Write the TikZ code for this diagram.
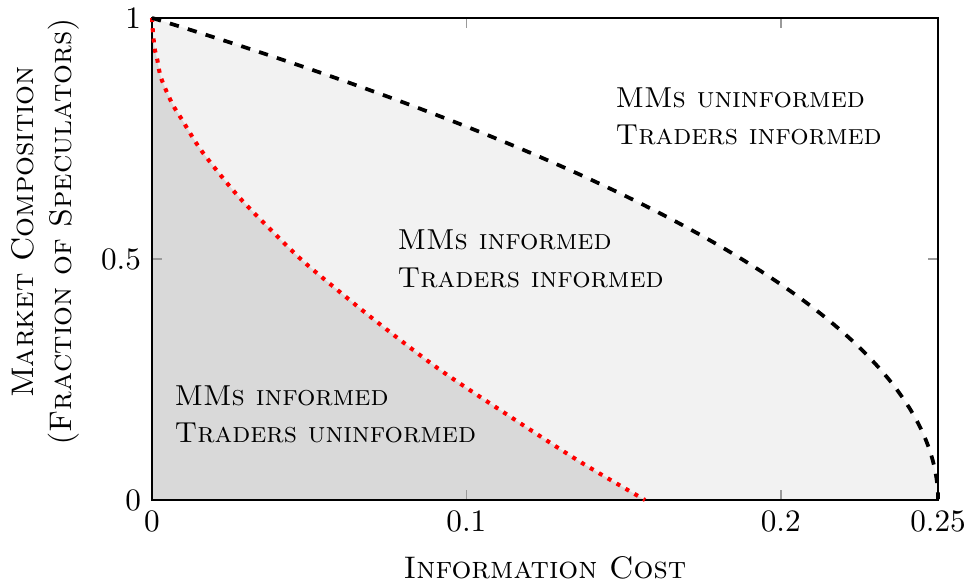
\documentclass[tikz,border=0pt]{standalone}
\definecolor{lightfill}{HTML}{F2F2F2}
\definecolor{darkfill}{HTML}{D9D9D9}
\definecolor{tickgray}{HTML}{9A9A9A}
\tikzset{
  regionlabel/.style={anchor=base west, inner sep=0pt, font=\fontsize{9.25}{12}\selectfont\scshape},
  xticklab/.style={anchor=north, inner sep=3.33pt},
  yticklab/.style={anchor=east, inner sep=3.33pt},
  axisbox/.style={draw=black, line width=0.5pt},
  tickmark/.style={draw=tickgray, line width=0.5pt},
  boundary/.style={black, dashed, line width=1.2pt},
  threshold/.style={red, dotted, line width=1.3pt},
  axislabel/.style={anchor=base, inner sep=0pt, font=\scshape},
}
\begin{document}
\begin{tikzpicture}[x=0.3205pt, y=-0.3205pt]
\useasboundingbox (0,0) rectangle (969,582);
% filled regions (data coordinates)
\begin{scope}[shift={(152,500)}, x=1007.7pt, y=154.5pt]
  \fill[lightfill] (0,1) -- plot[domain=1:0, samples=150] ({0.25*(1-\x*\x)},\x) -- (0,0) -- cycle;
  \fill[darkfill] plot[smooth] coordinates {(0,1) (0.0003,0.97) (0.0009,0.934) (0.0017,0.913) (0.00286,0.876) (0.00636,0.823) (0.00945,0.790) (0.0158,0.724) (0.0269,0.634) (0.0371,0.565) (0.0476,0.498) (0.0589,0.436) (0.0728,0.363) (0.0916,0.270) (0.1139,0.173) (0.1361,0.0795) (0.1568,0)} -- (0,0) -- cycle;
\end{scope}
% ticks
\coordinate (bx1) at (466.4,500); \coordinate (bx1e) at (466.4,490);
\coordinate (bx2) at (780.8,500); \coordinate (bx2e) at (780.8,490);
\coordinate (tx1) at (466.4,18);  \coordinate (tx1e) at (466.4,28);
\coordinate (tx2) at (780.8,18);  \coordinate (tx2e) at (780.8,28);
\coordinate (ly) at (152,259);    \coordinate (lye) at (162,259);
\coordinate (ry) at (938,259);    \coordinate (rye) at (928,259);
\draw[tickmark] (bx1) -- (bx1e);
\draw[tickmark] (bx2) -- (bx2e);
\draw[tickmark] (tx1) -- (tx1e);
\draw[tickmark] (tx2) -- (tx2e);
\draw[tickmark] (ly) -- (lye);
\draw[tickmark] (ry) -- (rye);
% axis box
\draw[axisbox] (152,18) rectangle (938,500);
% curves
\begin{scope}[shift={(152,500)}, x=1007.7pt, y=154.5pt]
  \draw[threshold] plot[smooth] coordinates {(0,1) (0.0003,0.97) (0.0009,0.934) (0.0017,0.913) (0.00286,0.876) (0.00636,0.823) (0.00945,0.790) (0.0158,0.724) (0.0269,0.634) (0.0371,0.565) (0.0476,0.498) (0.0589,0.436) (0.0728,0.363) (0.0916,0.270) (0.1139,0.173) (0.1361,0.0795) (0.1568,0)};
  \draw[boundary] plot[domain=1:0, samples=150] ({0.25*(1-\x*\x)},\x);
\end{scope}
% tick labels
\node[xticklab] (x0) at (152,500) {$0$};
\node[xticklab] (x1) at (466.4,500) {$0.1$};
\node[xticklab] (x2) at (780.8,500) {$0.2$};
\node[xticklab] (x3) at (938,500) {$0.25$};
\node[yticklab] (y0) at (152,500) {$0$};
\node[yticklab] (y1) at (152,259) {$0.5$};
\node[yticklab] (y2) at (152,18) {$1$};
% axis labels
\node[axislabel] (xlab) at (545,578) {Information Cost};
\node[axislabel, rotate=90] (ylab1) at (33.3,232) {Market Composition};
\node[axislabel, rotate=90] (ylab2) at (71.7,232) {(Fraction of Speculators)};
% region labels
\node[regionlabel] (a1) at (615,108) {MMs uninformed};
\node[regionlabel] (a2) at (615,145) {Traders informed};
\node[regionlabel] (b1) at (397,250) {MMs informed};
\node[regionlabel] (b2) at (397,288) {Traders informed};
\node[regionlabel] (c1) at (174,406) {MMs informed};
\node[regionlabel] (c2) at (174,443) {Traders uninformed};
\end{tikzpicture}
\end{document}
